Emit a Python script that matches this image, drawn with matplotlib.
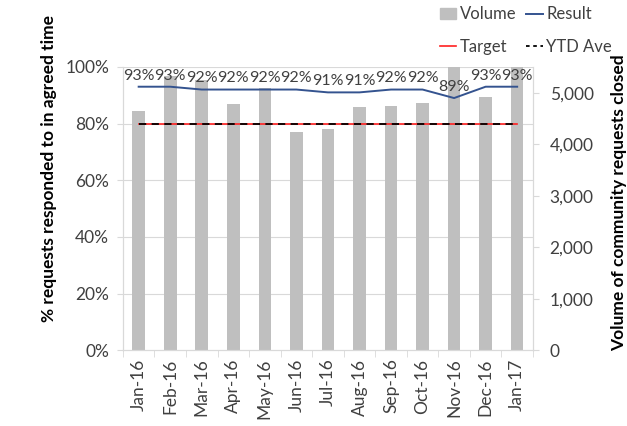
import numpy as np
import matplotlib
matplotlib.use("Agg")
from matplotlib import pyplot as plt
from matplotlib.lines import Line2D
from matplotlib.patches import Patch

plt.rcParams['font.family'] = ['Lato', 'DejaVu Sans']

months = ['Jan-16', 'Feb-16', 'Mar-16', 'Apr-16', 'May-16', 'Jun-16', 'Jul-16',
          'Aug-16', 'Sep-16', 'Oct-16', 'Nov-16', 'Dec-16', 'Jan-17']
volume = [4640, 5320, 5250, 4780, 5090, 4240, 4290, 4720, 4750, 4800, 5600, 4910, 5600]
result = [0.93, 0.93, 0.92, 0.92, 0.92, 0.92, 0.91, 0.91, 0.92, 0.92, 0.89, 0.93, 0.93]
target = [0.80] * 13
ytd_ave = [0.80] * 13

x = np.arange(len(months))
grey = '#BFBFBF'
txt = '#404040'

fig = plt.figure(figsize=(6.27, 4.26), dpi=100)
ax = fig.add_axes([0.196, 0.178, 0.654, 0.665])
ax2 = ax.twinx()
ax.set_zorder(ax2.get_zorder() + 1)
ax.patch.set_visible(False)

# volume bars on the right axis, behind the lines
ax2.bar(x, volume, width=0.4, color=grey, zorder=2)
ax2.set_ylim(0, 5500)
ax2.set_yticks(np.arange(0, 5001, 1000))
ax2.set_yticklabels(['{:,}'.format(v) for v in range(0, 5001, 1000)])
ax2.set_yticks(np.arange(0, 5501, 1100), minor=True)
ax2.grid(which='minor', axis='y', color='#D9D9D9', lw=0.8, zorder=0)
ax2.tick_params(axis='y', which='minor', length=0)
ax2.tick_params(axis='y', which='major', length=4, color='#D9D9D9',
                labelsize=12.5, labelcolor=txt, pad=8)
ax2.set_ylabel('Volume of community requests closed', fontsize=12.5,
               fontweight='bold', rotation=90, va='center')
ax2.yaxis.set_label_coords(1.21, 0.52)

# lines on the left axis
ax.plot(x, target, color='#FF2020', lw=1.2, zorder=3)
ax.plot(x, ytd_ave, color='black', lw=1.3, ls=(0, (4, 3)), zorder=4)
ax.plot(x, result, color='#34538F', lw=1.4, zorder=5)
for xi, r in zip(x, result):
    ax.annotate('{:.0%}'.format(r), (xi, r), xytext=(0, 3), textcoords='offset points',
                ha='center', va='bottom', fontsize=11.5, color=txt, zorder=6,
                annotation_clip=False)

ax.set_ylim(0, 1.0)
ax.set_yticks(np.arange(0, 1.01, 0.2))
ax.set_yticklabels(['{:.0%}'.format(v) for v in np.arange(0, 1.01, 0.2)])
ax.tick_params(axis='y', length=4, color='#D9D9D9', labelsize=12.5, labelcolor=txt, pad=6)
ax.set_ylabel('% requests responded to in agreed time', fontsize=12.5,
              fontweight='bold', va='center')
ax.yaxis.set_label_coords(-0.18, 0.64)

ax.set_xlim(-0.5, len(months) - 0.5)
ax.set_xticks(x)
ax.set_xticklabels(months, rotation=90)
ax.set_xticks(np.arange(-0.5, len(months)), minor=True)
ax.tick_params(axis='x', which='major', length=0, labelsize=12.5, labelcolor=txt, pad=6)
ax.tick_params(axis='x', which='minor', length=5, color='#D9D9D9')

for a in (ax, ax2):
    a.spines['top'].set_visible(False)
    for s in ('left', 'right', 'bottom'):
        a.spines[s].set_color('#D9D9D9')

handles = [Patch(color=grey), Line2D([], [], color='#FF2020', lw=1.2),
           Line2D([], [], color='#34538F', lw=1.4),
           Line2D([], [], color='black', lw=1.3, ls=(0, (2, 2)))]
labels = ['Volume', 'Target', 'Result', 'YTD Ave']
fig.legend(handles, labels, ncol=2, loc='upper right', bbox_to_anchor=(1.0, 1.02),
           frameon=False, fontsize=12, handlelength=1.0, handletextpad=0.2,
           columnspacing=0.6, labelspacing=1.0, labelcolor=txt)

fig.savefig('out.png', dpi=100)
